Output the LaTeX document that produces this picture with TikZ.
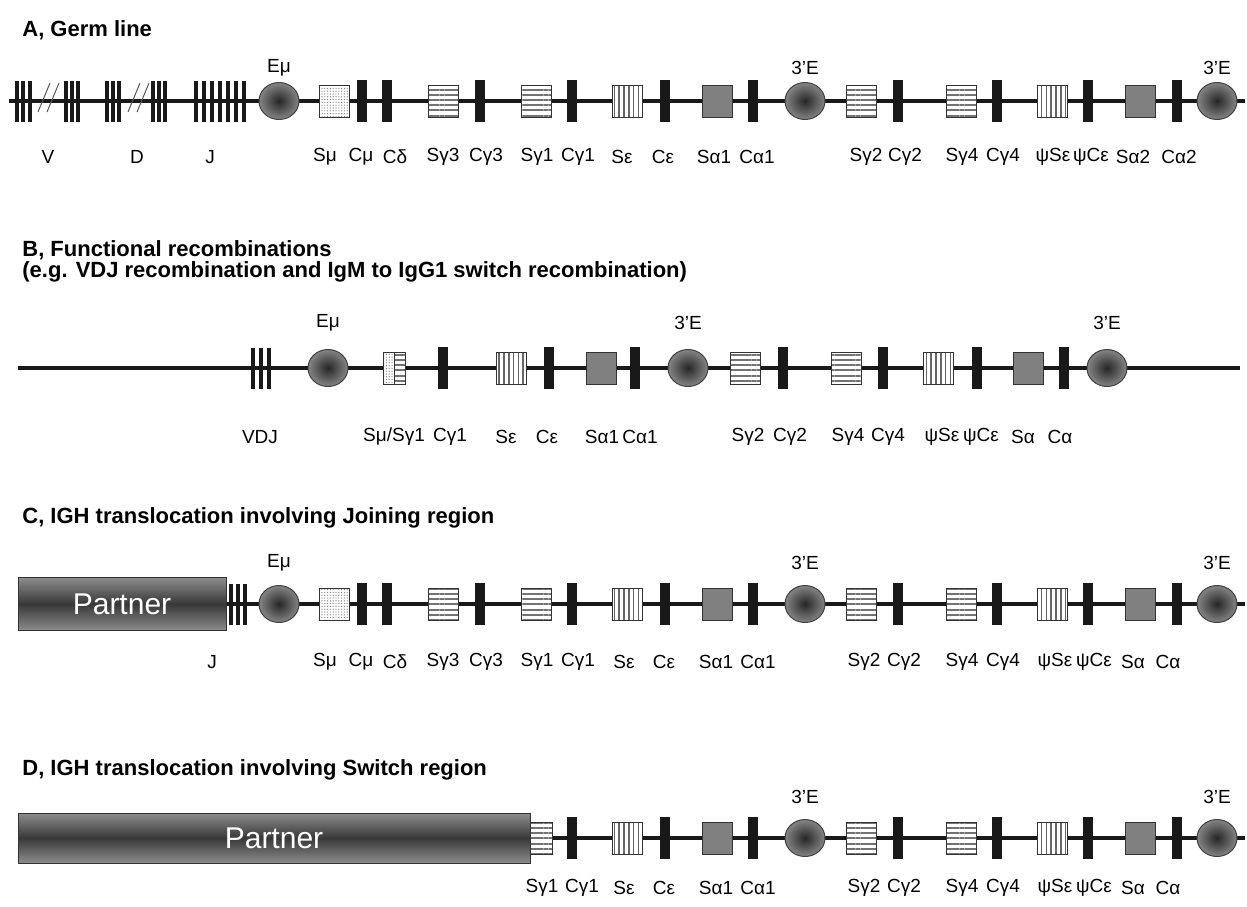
\documentclass[tikz,border=0pt]{standalone}
\usepackage{fontspec}
\setmainfont{Liberation Sans}
\usetikzlibrary{shapes.geometric,patterns.meta}
\begin{document}
\begin{tikzpicture}[x=0.5pt,y=-0.5pt,
		dna/.style={line width=1.6pt,black!90},
		cbar/.style={rectangle,fill=black!90,minimum width=5pt,minimum height=21pt,inner sep=0pt},
		vbar/.style={rectangle,fill=black!90,minimum width=1.6pt,minimum height=20.5pt,inner sep=0pt},
		sbox/.style={rectangle,draw=black!80,line width=0.5pt,minimum width=15pt,minimum height=16pt,inner sep=0pt,preaction={fill=white}},
		hbox/.style={sbox,pattern={Lines[angle=0,distance=2.6pt,line width=1pt]},pattern color=black!55},
		vbox/.style={sbox,pattern={Lines[angle=90,distance=2.4pt,line width=0.8pt]},pattern color=black!60},
		dbox/.style={sbox,pattern={Dots[distance=1.4pt,radius=0.3pt]},pattern color=black!55},
		gbox/.style={sbox,fill=black!50},
		enh/.style={ellipse,draw=black!75,line width=0.5pt,minimum width=20pt,minimum height=18.5pt,inner sep=0pt,inner color=black!85,outer color=black!48},
		partner/.style={rectangle,draw=black!80,line width=0.5pt,top color=black!45,bottom color=black!45,middle color=black!78,text=white,font=\fontsize{15}{18}\selectfont,inner sep=0pt},
		gene/.style={font=\fontsize{9.5}{11}\selectfont,inner sep=0pt},
		heading/.style={font=\bfseries\fontsize{11}{13}\selectfont,anchor=west,inner sep=0pt},
		slash/.style={black!65,line width=0.5pt}]
	\useasboundingbox (0,0) rectangle (1247,906);
	
	\node[heading] (ta) at (22,30) {A, Germ line};
	\coordinate (a-start) at (9,101);
	\coordinate (a-end) at (1245,101);
	\draw[dna] (a-start) -- (a-end);
	\foreach \x in {17,23,30,66,72,78,107,113,119,153,159,165,196,204,212,220,228,236,244}
	\node[vbar] (a-seg\x) at (\x,101) {};
	\draw[slash] (38,112) -- (50,83) (47,112) -- (59,83) (128,112) -- (140,83) (137,112) -- (149,83);
	\node[gene] (a-v) at (48,157) {V};
	\node[gene] (a-d) at (137,157) {D};
	\node[gene] (a-j) at (210,157) {J};
	\node[enh] (a-emu) at (279,101) {};
	\node[gene] (a-emu-l) at (279,68) {Eμ};
	\foreach \x/\lx/\kind/\txt [count=\i] in {334/325/dbox/Sμ,362/361/cbar/Cμ,387/395/cbar/Cδ,443/443/hbox/Sγ3,480/486/cbar/Cγ3,536/537/hbox/Sγ1,572/578/cbar/Cγ1,627/622/vbox/Sε,665/663/cbar/Cε,717/714/gbox/Sα1,753/757/cbar/Cα1,861/866/hbox/Sγ2,898/905/cbar/Cγ2,961/962/hbox/Sγ4,997/1003/cbar/Cγ4,1052/1053/vbox/ψSε,1088/1091/cbar/ψCε,1140/1133/gbox/Sα2,1177/1179/cbar/Cα2}
	{
		\node[\kind] (a\i) at (\x,101) {};
		\node[gene] (a\i-l) at (\lx,157) {\txt};
	}
	\node[enh] (a-3e1) at (805,101) {};
	\node[gene] (a-3e1-l) at (805,68) {3’E};
	\node[enh] (a-3e2) at (1217,101) {};
	\node[gene] (a-3e2-l) at (1217,68) {3’E};
	
	\node[heading] (tb) at (22,250) {B, Functional recombinations};
	\node[heading] (tb2) at (22,272) {(e.g. VDJ recombination and IgM to IgG1 switch recombination)};
	\coordinate (b-start) at (18,368);
	\coordinate (b-end) at (1240,368);
	\draw[dna] (b-start) -- (b-end);
	\foreach \x in {253,261,269}
	\node[vbar] (b-seg\x) at (\x,368) {};
	\node[gene] (b-vdj) at (260,437) {VDJ};
	\node[enh] (b-emu) at (328,368) {};
	\node[gene] (b-emu-l) at (328,323) {Eμ};
	\node[dbox,minimum width=5.5pt] (b-smu) at (388.5,368) {};
	\node[hbox,minimum width=5.5pt] (b-sg1) at (399.5,368) {};
	\node[gene] (b-smu-l) at (394,437) {Sμ/Sγ1};
	\foreach \x/\lx/\kind/\txt [count=\i] in {443/450/cbar/Cγ1,511/506/vbox/Sε,549/547/cbar/Cε,601/602/gbox/Sα1,635/640/cbar/Cα1,745/748/hbox/Sγ2,783/790/cbar/Cγ2,846/848/hbox/Sγ4,883/888/cbar/Cγ4,938/942/vbox/ψSε,977/981/cbar/ψCε,1028/1023/gbox/Sα,1064/1060/cbar/Cα}
	{
		\node[\kind] (b\i) at (\x,368) {};
		\node[gene] (b\i-l) at (\lx,437) {\txt};
	}
	\node[enh] (b-3e1) at (688,368) {};
	\node[gene] (b-3e1-l) at (688,323) {3’E};
	\node[enh] (b-3e2) at (1107,368) {};
	\node[gene] (b-3e2-l) at (1107,323) {3’E};
	
	\node[heading] (tc) at (22,518) {C, IGH translocation involving Joining region};
	\node[partner,minimum width=104pt,minimum height=26.5pt] (c-partner) at (122,604) {Partner};
	\coordinate (c-end) at (1245,604);
	\draw[dna] (c-partner.east) -- (c-end);
	\foreach \x in {231,238,245}
	\node[vbar] (c-seg\x) at (\x,604) {};
	\node[gene] (c-j) at (212,662) {J};
	\node[enh] (c-emu) at (279,604) {};
	\node[gene] (c-emu-l) at (279,563) {Eμ};
	\foreach \x/\lx/\kind/\txt [count=\i] in {334/325/dbox/Sμ,362/361/cbar/Cμ,387/395/cbar/Cδ,443/443/hbox/Sγ3,480/486/cbar/Cγ3,536/537/hbox/Sγ1,572/578/cbar/Cγ1,627/624/vbox/Sε,665/664/cbar/Cε,717/716/gbox/Sα1,753/758/cbar/Cα1,861/864/hbox/Sγ2,898/904/cbar/Cγ2,961/962/hbox/Sγ4,997/1003/cbar/Cγ4,1052/1055/vbox/ψSε,1088/1094/cbar/ψCε,1140/1133/gbox/Sα,1177/1168/cbar/Cα}
	{
		\node[\kind] (c\i) at (\x,604) {};
		\node[gene] (c\i-l) at (\lx,662) {\txt};
	}
	\node[enh] (c-3e1) at (805,604) {};
	\node[gene] (c-3e1-l) at (805,563) {3’E};
	\node[enh] (c-3e2) at (1217,604) {};
	\node[gene] (c-3e2-l) at (1217,563) {3’E};
	
	\node[heading] (td) at (22,770) {D, IGH translocation involving Switch region};
	\node[partner,minimum width=256pt,minimum height=25pt] (d-partner) at (274,838) {Partner};
	\coordinate (d-end) at (1245,838);
	\draw[dna] (d-partner.east) -- (d-end);
	\node[hbox,minimum width=11pt] (d-sg1) at (541.5,838) {};
	\node[gene] (d-sg1-l) at (542,888) {Sγ1};
	\foreach \x/\lx/\kind/\txt [count=\i] in {572/582/cbar/Cγ1,627/624/vbox/Sε,665/664/cbar/Cε,717/716/gbox/Sα1,753/758/cbar/Cα1,861/864/hbox/Sγ2,898/904/cbar/Cγ2,961/962/hbox/Sγ4,997/1003/cbar/Cγ4,1052/1055/vbox/ψSε,1088/1094/cbar/ψCε,1140/1133/gbox/Sα,1177/1168/cbar/Cα}
	{
		\node[\kind] (d\i) at (\x,838) {};
		\node[gene] (d\i-l) at (\lx,888) {\txt};
	}
	\node[enh] (d-3e1) at (805,838) {};
	\node[gene] (d-3e1-l) at (805,797) {3’E};
	\node[enh] (d-3e2) at (1217,838) {};
	\node[gene] (d-3e2-l) at (1217,797) {3’E};
\end{tikzpicture}
\end{document}
